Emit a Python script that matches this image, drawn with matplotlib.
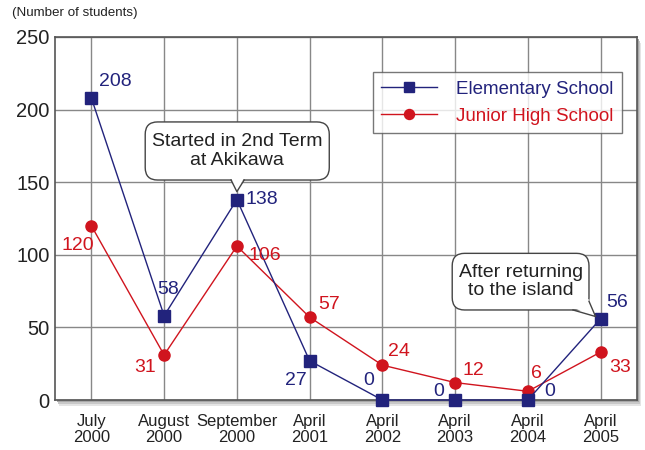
import matplotlib
matplotlib.use("Agg")
import matplotlib.pyplot as plt
from matplotlib.patches import Rectangle, FancyBboxPatch, Polygon

categories = ["July\n2000", "August\n2000", "September\n2000", "April\n2001",
              "April\n2002", "April\n2003", "April\n2004", "April\n2005"]
elementary = [208, 58, 138, 27, 0, 0, 0, 56]
junior = [120, 31, 106, 57, 24, 12, 6, 33]
yticks = [0, 50, 100, 150, 200, 250]

navy = "#22237c"
red = "#d0141e"
txt = "#222222"

plt.rcParams['font.family'] = ['Liberation Sans', 'DejaVu Sans']

fig = plt.figure(figsize=(6.45, 4.5), dpi=100)
ax = fig.add_axes([55/645, 1-400/450, (637-55)/645, (400-37)/450])
ax.set_zorder(2)

# soft shadow
pos = ax.get_position()
for k, c in enumerate(["#e4e4e4", "#c8c8c8", "#a8a8a8"]):
    d = 6 - 2*k
    sh = Rectangle((pos.x0 + d/645 - (2 - k)/645, pos.y0 - d/450), pos.width, pos.height,
                   transform=fig.transFigure, facecolor=c, edgecolor="none", zorder=0)
    fig.patches.append(sh)

x = list(range(len(categories)))
ax.plot(x, elementary, color=navy, lw=1.0, marker='s', ms=8.5, mfc=navy, mec=navy,
        label="Elementary School", zorder=4, clip_on=False)
ax.plot(x, junior, color=red, lw=1.0, marker='o', ms=8, mfc=red, mec=red,
        label="Junior High School", zorder=3, clip_on=False)

ax.set_xlim(-0.5, 7.5)
ax.set_ylim(0, 250)
ax.set_xticks(x)
ax.set_xticklabels(categories, fontsize=12, linespacing=1.12, color=txt)
ax.set_yticks(yticks)
ax.set_yticklabels([str(v) for v in yticks], fontsize=14.5, color=txt)
ax.tick_params(length=0)
ax.tick_params(axis='y', pad=4)
ax.tick_params(axis='x', pad=10)
ax.grid(True, color="#888888", lw=1)
ax.set_axisbelow(True)
for s in ax.spines.values():
    s.set_color("#555555")
    s.set_linewidth(1.2)

# value labels (offsets in points)
el_off = [(17, 12), (3, 19), (18, 0), (-10, -14), (-10, 14), (-12, 6), (16, 6), (12, 12)]
jr_off = [(-10, -14), (-14, -9), (20, -7), (14, 9), (12, 10), (13, 9), (6, 13), (14, -11)]
for i, v in enumerate(elementary):
    ax.annotate(str(v), (i, v), xytext=el_off[i], textcoords='offset points',
                color=navy, fontsize=14, ha='center', va='center', zorder=6)
for i, v in enumerate(junior):
    ax.annotate(str(v), (i, v), xytext=jr_off[i], textcoords='offset points',
                color=red, fontsize=14, ha='center', va='center', zorder=6)

# speech bubbles (data coordinates)
aspect = (73) / (363/250)  # y data units per x data unit for equal pixels
def bubble(text, x0, x1, y0, y1, base, tip):
    box = FancyBboxPatch((x0, y0), x1 - x0, y1 - y0,
                         boxstyle="round,pad=0,rounding_size=0.17",
                         mutation_aspect=aspect, fc="white", ec="#444444", lw=1, zorder=7)
    ax.add_patch(box)
    (bx0, by0), (bx1, by1) = base
    fill = Polygon([(bx0, by0 + 1.5), (bx1, by1 + 1.5), tip], closed=True,
                   fc="white", ec="none", zorder=8)
    ax.add_patch(fill)
    ax.plot([bx0, tip[0], bx1], [by0, tip[1], by1], color="#444444", lw=1, zorder=8)
    ax.text((x0 + x1) / 2, (y0 + y1) / 2, text, ha='center', va='center', fontsize=14,
            color=txt, linespacing=1.1, zorder=9)

bubble("Started in 2nd Term\nat Akikawa", 0.74, 3.27, 151.5, 191.5,
       ((1.92, 151.5), (2.1, 151.5)), (2.0, 143.5))
bubble("After returning\nto the island", 4.96, 6.84, 62, 101,
       ((6.62, 62), (6.84, 68)), (6.93, 57.5))

leg = ax.legend(loc='upper right', bbox_to_anchor=((622 - 55)/582, 1 - (72 - 37)/363),
                borderaxespad=0, fontsize=13.5, frameon=True, fancybox=False, shadow=False,
                handlelength=3.0, borderpad=0.45, labelspacing=0.55, handletextpad=1.0,
                markerscale=0.9)
leg.get_frame().set_edgecolor("#555555")
leg.get_frame().set_linewidth(1)
leg.set_zorder(10)
for t, c in zip(leg.get_texts(), [navy, red]):
    t.set_color(c)

fig.text(12/645, 1-13/450, "(Number of students)", fontsize=9.6, ha='left', va='center', color=txt)

fig.savefig("out.png", dpi=100)
